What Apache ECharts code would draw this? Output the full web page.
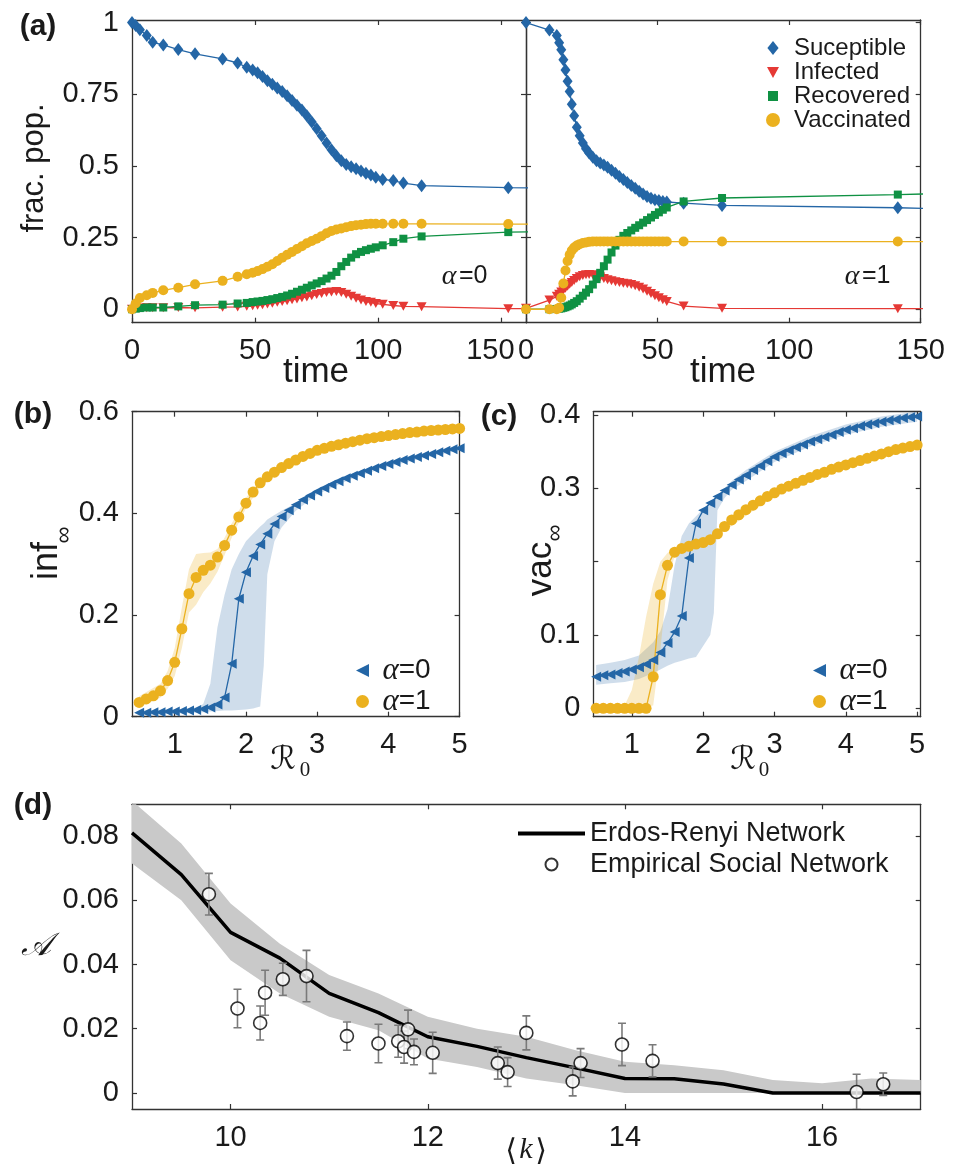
<!DOCTYPE html>
<html>
<head>
<meta charset="utf-8">
<script src="https://cdn.jsdelivr.net/npm/echarts@6/dist/echarts.min.js"></script>
<style>
  html, body { margin: 0; padding: 0; background: #fff; }
  #chart { width: 959px; height: 1168px; }
</style>
</head>
<body>
<div id="chart"></div>
<script>
// ---- panel (a): time courses, alpha = 0 (left) and alpha = 1 (right)
var timeA0 = [0, 1.5, 3.2, 6, 8.4, 12.7, 18.8, 25.6, 36.8, 42.9, 46.6,
  49, 51, 53, 55, 57, 59, 61, 63, 65, 67, 69, 71, 73, 75, 77, 79, 81, 83, 85, 87, 89, 91, 93, 95, 97, 99,
  101.8, 106.1, 110.2, 117.6, 152.8, 175];
var susA0 = [1, 0.99, 0.975, 0.955, 0.931, 0.922, 0.906, 0.891, 0.873, 0.859, 0.844,
  0.835, 0.825, 0.812, 0.797, 0.785, 0.772, 0.76, 0.745, 0.728, 0.712, 0.695, 0.675, 0.653, 0.63, 0.605,
  0.58, 0.556, 0.535, 0.518, 0.505, 0.497, 0.49, 0.482, 0.474, 0.468, 0.46,
  0.453, 0.449, 0.44, 0.431, 0.424, 0.423];
var infA0 = [0, 0.003, 0.004, 0.005, 0.005, 0.005, 0.006, 0.005, 0.007, 0.008, 0.01,
  0.012, 0.014, 0.016, 0.018, 0.021, 0.024, 0.027, 0.03, 0.033, 0.036, 0.04, 0.043, 0.047, 0.051, 0.055,
  0.058, 0.06, 0.062, 0.058, 0.052, 0.045, 0.038, 0.032, 0.027, 0.024, 0.02,
  0.017, 0.013, 0.01, 0.009, 0.002, 0.002];
var recA0 = [0, 0.002, 0.004, 0.006, 0.006, 0.006, 0.01, 0.014, 0.016, 0.02, 0.022,
  0.025, 0.027, 0.029, 0.032, 0.035, 0.039, 0.043, 0.048, 0.054, 0.061, 0.068, 0.075, 0.083, 0.09, 0.098,
  0.107, 0.117, 0.13, 0.15, 0.165, 0.18, 0.192, 0.2, 0.206, 0.211, 0.216,
  0.223, 0.234, 0.246, 0.254, 0.269, 0.272];
var vacA0 = [0, 0.02, 0.039, 0.049, 0.057, 0.066, 0.075, 0.087, 0.099, 0.113, 0.122,
  0.127, 0.133, 0.14, 0.148, 0.157, 0.168, 0.18, 0.19, 0.2, 0.21, 0.22, 0.23, 0.238, 0.246, 0.255,
  0.265, 0.273, 0.278, 0.282, 0.286, 0.29, 0.293, 0.295, 0.297, 0.298, 0.298,
  0.298, 0.298, 0.298, 0.298, 0.297, 0.297];

var timeA1 = [0, 8.9, 11.7, 12.6, 13.4, 14.2, 15, 15.8, 16.6, 17.4,
  18.3, 19.3, 20.4, 21.6, 22.8, 24, 25.4, 26.8, 28.2, 29.6,
  31, 32.5, 34, 35.5, 37, 38.5, 40, 41.5, 43, 44.5,
  46, 47.5, 49, 50.5, 52, 53.5, 59.9, 74.5, 141.3, 165];
var susA1 = [1, 0.974, 0.955, 0.93, 0.905, 0.87, 0.835, 0.795, 0.76, 0.715,
  0.675, 0.635, 0.605, 0.58, 0.56, 0.545, 0.53, 0.518, 0.51, 0.503,
  0.495, 0.485, 0.474, 0.463, 0.453, 0.442, 0.432, 0.422, 0.412, 0.402,
  0.393, 0.387, 0.382, 0.379, 0.376, 0.374, 0.37, 0.362, 0.354, 0.349];
var infA1 = [0.003, 0.032, 0.045, 0.052, 0.06, 0.066, 0.073, 0.08, 0.087, 0.093,
  0.1, 0.107, 0.113, 0.118, 0.12, 0.121, 0.12, 0.117, 0.112, 0.107,
  0.103, 0.099, 0.096, 0.093, 0.091, 0.089, 0.086, 0.082, 0.077, 0.071,
  0.063, 0.055, 0.047, 0.04, 0.033, 0.027, 0.011, 0.003, 0.002, 0.002];
var recA1 = [0, 0, 0.001, 0.002, 0.003, 0.005, 0.007, 0.01, 0.013, 0.017,
  0.022, 0.028, 0.037, 0.047, 0.058, 0.07, 0.086, 0.105, 0.127, 0.15,
  0.173, 0.198, 0.222, 0.242, 0.256, 0.266, 0.275, 0.284, 0.293, 0.302,
  0.311, 0.32, 0.329, 0.338, 0.347, 0.355, 0.376, 0.388, 0.4, 0.405];
var vacA1 = [0, 0, 0, 0.005, 0.04, 0.09, 0.135, 0.168, 0.19, 0.205,
  0.215, 0.222, 0.227, 0.231, 0.233, 0.235, 0.236, 0.236, 0.236, 0.236,
  0.236, 0.236, 0.236, 0.236, 0.236, 0.236, 0.236, 0.236, 0.236, 0.236,
  0.236, 0.236, 0.236, 0.236, 0.236, 0.236, 0.236, 0.236, 0.236, 0.236];

// ---- panels (b) and (c): final infected / vaccinated vs R0
var r0 = [0.5, 0.6, 0.7, 0.8, 0.9, 1.0, 1.1, 1.2, 1.3, 1.4, 1.5, 1.6, 1.7, 1.8, 1.9, 2.0,
  2.1, 2.2, 2.3, 2.4, 2.5, 2.6, 2.7, 2.8, 2.9, 3.0, 3.1, 3.2, 3.3, 3.4, 3.5, 3.6,
  3.7, 3.8, 3.9, 4.0, 4.1, 4.2, 4.3, 4.4, 4.5, 4.6, 4.7, 4.8, 4.9, 5.0];
var infEnd0 = [0.008, 0.008, 0.009, 0.009, 0.01, 0.01, 0.011, 0.012, 0.013, 0.015,
  0.018, 0.024, 0.038, 0.104, 0.232, 0.284, 0.316, 0.339, 0.36, 0.379,
  0.394, 0.406, 0.417, 0.427, 0.435, 0.443, 0.45, 0.457, 0.463, 0.469,
  0.474, 0.479, 0.484, 0.489, 0.493, 0.497, 0.501, 0.505, 0.508, 0.511,
  0.514, 0.517, 0.52, 0.523, 0.526, 0.528];
var infEnd1 = [0.028, 0.035, 0.041, 0.051, 0.071, 0.107, 0.173, 0.242, 0.274, 0.288,
  0.298, 0.314, 0.337, 0.367, 0.393, 0.42, 0.442, 0.46, 0.472, 0.481,
  0.49, 0.498, 0.505, 0.512, 0.518, 0.524, 0.528, 0.532, 0.535, 0.538,
  0.541, 0.544, 0.547, 0.549, 0.551, 0.553, 0.555, 0.557, 0.559, 0.56,
  0.562, 0.563, 0.564, 0.565, 0.566, 0.567];
var vacEnd0 = [0.043, 0.045, 0.046, 0.048, 0.05, 0.053, 0.056, 0.06, 0.066, 0.076,
  0.089, 0.104, 0.126, 0.205, 0.252, 0.27, 0.28, 0.289, 0.297, 0.305,
  0.312, 0.318, 0.325, 0.331, 0.337, 0.343, 0.348, 0.352, 0.356, 0.36,
  0.364, 0.367, 0.37, 0.373, 0.377, 0.38, 0.382, 0.385, 0.387, 0.389,
  0.391, 0.393, 0.394, 0.396, 0.397, 0.398];
var vacEnd1 = [0, 0, 0, 0, 0, 0, 0, 0, 0.043, 0.155,
  0.195, 0.213, 0.218, 0.221, 0.224, 0.226, 0.23, 0.238, 0.248, 0.257,
  0.264, 0.271, 0.277, 0.283, 0.289, 0.294, 0.299, 0.303, 0.307, 0.311,
  0.315, 0.319, 0.322, 0.326, 0.329, 0.332, 0.335, 0.338, 0.341, 0.344,
  0.347, 0.35, 0.353, 0.355, 0.357, 0.359];

// shaded spread bands
var bandInf0X = [0.5, 1.0, 1.3, 1.4, 1.5, 1.6, 1.7, 1.8, 1.9, 2.0, 2.1, 2.2, 2.25, 2.3, 2.4, 2.5, 2.7, 3.0, 3.5, 4.0, 4.5, 5.0];
var bandInf0Hi = [0.012, 0.014, 0.018, 0.025, 0.065, 0.176, 0.24, 0.29, 0.32, 0.345, 0.36, 0.374, 0.38, 0.388, 0.397, 0.405, 0.42, 0.447, 0.479, 0.502, 0.519, 0.532];
var bandInf0Lo = [0.004, 0.006, 0.008, 0.009, 0.01, 0.011, 0.012, 0.012, 0.013, 0.014, 0.016, 0.02, 0.1, 0.28, 0.345, 0.372, 0.405, 0.437, 0.469, 0.492, 0.509, 0.524];
var bandInf1X = [0.5, 0.8, 0.9, 1.0, 1.1, 1.2, 1.3, 1.4, 1.5, 1.6, 1.7, 1.8, 1.9, 2.0, 2.2, 2.5, 3.0, 3.5, 4.0, 4.5, 5.0];
var bandInf1Hi = [0.04, 0.065, 0.09, 0.135, 0.215, 0.29, 0.32, 0.322, 0.323, 0.33, 0.352, 0.38, 0.405, 0.43, 0.468, 0.498, 0.528, 0.546, 0.557, 0.566, 0.571];
var bandInf1Lo = [0.018, 0.038, 0.055, 0.08, 0.135, 0.205, 0.22, 0.245, 0.262, 0.285, 0.318, 0.352, 0.382, 0.41, 0.452, 0.484, 0.516, 0.536, 0.549, 0.558, 0.563];
var bandVac0X = [0.5, 0.7, 0.9, 1.1, 1.3, 1.4, 1.5, 1.6, 1.7, 1.8, 1.9, 2.0, 2.1, 2.15, 2.2, 2.3, 2.4, 2.6, 3.0, 3.5, 4.0, 4.5, 5.0];
var bandVac0Hi = [0.059, 0.062, 0.066, 0.072, 0.09, 0.105, 0.135, 0.195, 0.235, 0.252, 0.262, 0.272, 0.281, 0.285, 0.29, 0.3, 0.31, 0.325, 0.35, 0.371, 0.387, 0.398, 0.405];
var bandVac0Lo = [0.032, 0.034, 0.036, 0.04, 0.048, 0.053, 0.058, 0.062, 0.065, 0.068, 0.07, 0.085, 0.1, 0.13, 0.27, 0.287, 0.298, 0.31, 0.336, 0.357, 0.373, 0.384, 0.391];
var bandVac1X = [0.5, 0.9, 1.0, 1.1, 1.2, 1.3, 1.4, 1.5, 1.6, 1.8, 2.2, 3.0, 4.0, 5.0];
var bandVac1Hi = [0.003, 0.004, 0.025, 0.07, 0.125, 0.17, 0.2, 0.212, 0.218, 0.224, 0.241, 0.298, 0.336, 0.362];
var bandVac1Lo = [0, 0, 0, 0, 0, 0.004, 0.08, 0.175, 0.207, 0.218, 0.235, 0.29, 0.328, 0.356];

// ---- panel (d): asymmetry vs mean degree
var kER = [9, 9.5, 10, 10.5, 11, 11.5, 12, 12.5, 13, 13.5, 14, 14.5, 15, 15.5, 16, 16.5, 17];
var asymER = [0.081, 0.068, 0.05, 0.042, 0.031, 0.025, 0.0175, 0.0145, 0.011, 0.0078, 0.0045, 0.0044, 0.0028, 0, 0, 0, 0];
var asymERHi = [0.091, 0.0777, 0.059, 0.0465, 0.0367, 0.031, 0.0237, 0.02, 0.0175, 0.0133, 0.0097, 0.0086, 0.0071, 0.004, 0.003, 0.0045, 0.004];
var asymERLo = [0.0715, 0.06, 0.0413, 0.031, 0.0237, 0.0195, 0.0107, 0.0081, 0.0045, 0.0024, 0, 0, 0, 0, 0, 0, 0];
var kEmp = [9.78, 10.07, 10.3, 10.35, 10.53, 10.77, 11.18, 11.5, 11.7, 11.76, 11.8,
  11.86, 12.05, 12.71, 12.81, 13.0, 13.47, 13.55, 13.97, 14.28, 16.35, 16.62];
var asymEmp = [0.0619, 0.0263, 0.0218, 0.0312, 0.0354, 0.0364, 0.0177, 0.0154, 0.0161, 0.0143, 0.0198,
  0.0128, 0.0125, 0.0093, 0.0065, 0.0187, 0.0036, 0.0093, 0.0151, 0.01, 0.0003, 0.0027];
var errEmp = [0.0065, 0.006, 0.0053, 0.007, 0.005, 0.008, 0.0044, 0.006, 0.005, 0.005, 0.006,
  0.004, 0.0064, 0.005, 0.0045, 0.0053, 0.0045, 0.0045, 0.0066, 0.005, 0.0055, 0.0035];

var FONT = '"Liberation Sans", Arial, Helvetica, sans-serif';
var SERIF = '"Liberation Serif", "DejaVu Serif", serif';
var AXC = '#333';
var TXT = '#1a1a1a';
var BLUE = '#2466a6', RED = '#e53935', GREEN = '#0f9143', ORANGE = '#ebb11f';

function pairs(xs, ys) {
  return xs.map(function (x, i) { return [x, ys[i]]; });
}

function xAxis(grid, pos, min, max, ticks, labels, extra) {
  var ax = {
    type: 'value', gridIndex: grid, position: pos, min: min, max: max,
    axisLine: { show: true, onZero: false, lineStyle: { color: AXC, width: 1.3 } },
    axisTick: { show: true, inside: true, length: 5, customValues: ticks, lineStyle: { color: AXC, width: 1.2 } },
    axisLabel: { show: !!labels, customValues: labels || ticks, margin: 14, fontSize: 29, color: TXT, fontFamily: FONT },
    splitLine: { show: false }
  };
  if (extra) ax.axisLabel = Object.assign(ax.axisLabel, extra);
  return ax;
}

function yAxis(grid, pos, min, max, ticks, labels) {
  return {
    type: 'value', gridIndex: grid, position: pos, min: min, max: max,
    axisLine: { show: true, onZero: false, lineStyle: { color: AXC, width: 1.3 } },
    axisTick: { show: true, inside: true, length: 5, customValues: ticks, lineStyle: { color: AXC, width: 1.2 } },
    axisLabel: { show: !!labels, customValues: labels || ticks, margin: 13, fontSize: 29, color: TXT, fontFamily: FONT },
    splitLine: { show: false }
  };
}

function lineSeries(name, grid, xs, ys, color, symbol, size, rotate) {
  return {
    type: 'line', name: name, xAxisIndex: grid, yAxisIndex: grid,
    data: pairs(xs, ys), symbol: symbol, symbolSize: size, symbolRotate: rotate || 0,
    showSymbol: true, clip: true, z: 3,
    lineStyle: { color: color, width: 1.3 },
    itemStyle: { color: color },
    emphasis: { disabled: true }
  };
}

function bandSeries(grid, xs, lo, hi, fill) {
  return {
    type: 'custom', xAxisIndex: grid, yAxisIndex: grid, clip: true, silent: true, z: 1,
    data: [[xs[0], lo[0]]],
    encode: { x: 0, y: 1 },
    renderItem: function (params, api) {
      var pts = [];
      for (var i = 0; i < xs.length; i++) pts.push(api.coord([xs[i], hi[i]]));
      for (var j = xs.length - 1; j >= 0; j--) pts.push(api.coord([xs[j], lo[j]]));
      return { type: 'polygon', shape: { points: pts }, style: { fill: fill } };
    }
  };
}

var ticksA = [0, 0.25, 0.5, 0.75, 1];
var ticksT = [0, 50, 100, 150];
var ticksR = [1, 2, 3, 4, 5];

var alphaLegend = {
  formatter: function (n) { return '{a|α}{n|' + n.slice(1) + '}'; },
  textStyle: {
    lineHeight: 30, color: TXT,
    rich: {
      a: { fontFamily: SERIF, fontStyle: 'italic', fontSize: 31, color: TXT, lineHeight: 30 },
      n: { fontFamily: FONT, fontSize: 28, color: TXT, lineHeight: 30 }
    }
  },
  data: [{ name: 'α=0', icon: 'path://M10,0L10,10L0,5Z' }, { name: 'α=1', icon: 'circle' }]
};

var option = {
  animation: false,
  backgroundColor: '#fff',
  grid: [
    { left: 132, top: 20, width: 394, height: 302.7 },
    { left: 526, top: 20, width: 394.7, height: 302.7 },
    { left: 132, top: 411.7, width: 327.6, height: 305 },
    { left: 593.3, top: 411.7, width: 327.4, height: 305 },
    { left: 132, top: 804.3, width: 788.7, height: 304.7 }
  ].map(function (g) { g.containLabel = false; g.outerBoundsMode = 'none'; return g; }),
  xAxis: [
    xAxis(0, 'bottom', 0, 160, ticksT, ticksT, {
      formatter: function (v) { return v === 150 ? '{s|150}' : String(v); },
      rich: { s: { fontSize: 29, fontFamily: FONT, color: TXT, padding: [0, 22, 0, 0] } }
    }),
    xAxis(1, 'bottom', 0, 150, ticksT, ticksT),
    xAxis(2, 'bottom', 0.4, 5, ticksR, ticksR),
    xAxis(3, 'bottom', 0.46, 5.05, ticksR, ticksR),
    xAxis(4, 'bottom', 9, 17, [10, 12, 14, 16], [10, 12, 14, 16]),
    xAxis(0, 'top', 0, 160, ticksT),
    xAxis(1, 'top', 0, 150, ticksT),
    xAxis(2, 'top', 0.4, 5, ticksR),
    xAxis(3, 'top', 0.46, 5.05, ticksR),
    xAxis(4, 'top', 9, 17, [10, 12, 14, 16])
  ],
  yAxis: [
    yAxis(0, 'left', -0.047, 1.009, ticksA, ticksA),
    yAxis(1, 'left', -0.047, 1.009, ticksA),
    yAxis(2, 'left', 0, 0.6, [0, 0.2, 0.4, 0.6], [0, 0.2, 0.4, 0.6]),
    yAxis(3, 'left', -0.0115, 0.4046, [0, 0.1, 0.2, 0.3, 0.4], [0, 0.1, 0.3, 0.4]),
    yAxis(4, 'left', -0.005, 0.0899, [0, 0.02, 0.04, 0.06, 0.08], [0, 0.02, 0.04, 0.06, 0.08]),
    yAxis(0, 'right', -0.047, 1.009, ticksA),
    yAxis(1, 'right', -0.047, 1.009, ticksA),
    yAxis(2, 'right', 0, 0.6, [0, 0.2, 0.4, 0.6]),
    yAxis(3, 'right', -0.0115, 0.4046, [0, 0.1, 0.2, 0.3, 0.4]),
    yAxis(4, 'right', -0.005, 0.0899, [0, 0.02, 0.04, 0.06, 0.08])
  ],
  legend: [
    {
      left: 761, top: 31, orient: 'vertical', itemGap: 0, itemWidth: 14, itemHeight: 14,
      selectedMode: false,
      textStyle: { fontSize: 24, lineHeight: 23, fontFamily: FONT, color: TXT, padding: [0, 0, 0, 9] },
      data: [
        { name: 'Suceptible', icon: 'path://M6,0L12,7.5L6,15L0,7.5Z' },
        { name: 'Infected', icon: 'path://M0,0M1,2L13,2L7,13ZM14,14' },
        { name: 'Recovered', icon: 'path://M0,0M2,2h10v10h-10zM14,14' },
        { name: 'Vaccinated', icon: 'circle' }
      ]
    },
    Object.assign({ left: 351, top: 650, orient: 'vertical', itemGap: 0, itemWidth: 30, itemHeight: 13, selectedMode: false }, alphaLegend),
    Object.assign({ left: 808, top: 650, orient: 'vertical', itemGap: 0, itemWidth: 30, itemHeight: 13, selectedMode: false }, alphaLegend),
    {
      left: 513, top: 813, orient: 'vertical', itemGap: 0, itemWidth: 67, itemHeight: 12,
      selectedMode: false,
      textStyle: { fontSize: 27, lineHeight: 31, fontFamily: FONT, color: TXT },
      data: [
        { name: 'Erdos-Renyi Network', icon: 'path://M0,0h67v4h-67z' },
        { name: 'Empirical Social Network', icon: 'circle' }
      ]
    }
  ],
  graphic: [],
  series: []
};

// panel (a)
[[0, timeA0, susA0, infA0, recA0, vacA0], [1, timeA1, susA1, infA1, recA1, vacA1]].forEach(function (p) {
  var g = p[0], t = p[1];
  option.series.push(lineSeries('Suceptible', g, t, p[2], BLUE, 'diamond', [10, 13]));
  option.series.push(lineSeries('Infected', g, t, p[3], RED, 'triangle', [10, 9], 180));
  option.series.push(lineSeries('Recovered', g, t, p[4], GREEN, 'rect', 8));
  option.series.push(lineSeries('Vaccinated', g, t, p[5], ORANGE, 'circle', 10));
});

// panel (b)
option.series.push(bandSeries(2, bandInf0X, bandInf0Lo, bandInf0Hi, 'rgba(36,102,166,0.22)'));
option.series.push(bandSeries(2, bandInf1X, bandInf1Lo, bandInf1Hi, 'rgba(235,177,31,0.25)'));
option.series.push(lineSeries('α=0', 2, r0, infEnd0, BLUE, 'triangle', 10, 90));
option.series.push(lineSeries('α=1', 2, r0, infEnd1, ORANGE, 'circle', 11));

// panel (c)
option.series.push(bandSeries(3, bandVac0X, bandVac0Lo, bandVac0Hi, 'rgba(36,102,166,0.22)'));
option.series.push(bandSeries(3, bandVac1X, bandVac1Lo, bandVac1Hi, 'rgba(235,177,31,0.25)'));
option.series.push(lineSeries('α=0', 3, r0, vacEnd0, BLUE, 'triangle', 10, 90));
option.series.push(lineSeries('α=1', 3, r0, vacEnd1, ORANGE, 'circle', 11));

// panel (d)
option.series.push(bandSeries(4, kER, asymERLo, asymERHi, '#c9c9c9'));
option.series.push({
  type: 'line', name: 'Erdos-Renyi Network', xAxisIndex: 4, yAxisIndex: 4,
  data: pairs(kER, asymER), symbol: 'none', clip: true, z: 3,
  lineStyle: { color: '#000', width: 3.5 }, itemStyle: { color: '#000' },
  emphasis: { disabled: true }
});
option.series.push({
  type: 'custom', xAxisIndex: 4, yAxisIndex: 4, clip: true, silent: true, z: 4,
  data: kEmp.map(function (k, i) { return [k, asymEmp[i], errEmp[i]]; }),
  encode: { x: 0, y: 1 },
  renderItem: function (params, api) {
    var k = api.value(0), v = api.value(1), e = api.value(2);
    var top = api.coord([k, v + e]), bot = api.coord([k, v - e]);
    var st = { stroke: '#7a7a7a', lineWidth: 1.6 };
    return {
      type: 'group', children: [
        { type: 'line', shape: { x1: top[0], y1: top[1], x2: bot[0], y2: bot[1] }, style: st },
        { type: 'line', shape: { x1: top[0] - 4, y1: top[1], x2: top[0] + 4, y2: top[1] }, style: st },
        { type: 'line', shape: { x1: bot[0] - 4, y1: bot[1], x2: bot[0] + 4, y2: bot[1] }, style: st }
      ]
    };
  }
});
option.series.push({
  type: 'scatter', name: 'Empirical Social Network', xAxisIndex: 4, yAxisIndex: 4,
  data: pairs(kEmp, asymEmp), symbol: 'circle', symbolSize: 13, z: 5,
  itemStyle: { color: '#fff', borderColor: '#000', borderWidth: 1.6 },
  emphasis: { disabled: true }
});

// text: panel letters, axis names, annotations
function txt(text, x, y, size, opts) {
  var el = {
    type: 'text', x: x, y: y, silent: true,
    style: { text: text, fontSize: size, fontFamily: FONT, fill: TXT, align: 'center', verticalAlign: 'middle' }
  };
  if (opts) {
    if (opts.rotation) el.rotation = opts.rotation;
    Object.keys(opts).forEach(function (k) { if (k !== 'rotation') el.style[k] = opts[k]; });
  }
  option.graphic.push(el);
}
var bold = { fontWeight: 'bold' };
var up = Math.PI / 2;
txt('(a)', 38, 27, 30, bold);
txt('(b)', 33, 415, 30, bold);
txt('(c)', 499, 417, 30, bold);
txt('(d)', 33, 806, 30, bold);
txt('frac. pop.', 34, 168, 31, { rotation: up });
txt('time', 316, 372, 35);
txt('time', 723, 372, 35);
txt('α', 449, 277, 28, { fontFamily: SERIF, fontStyle: 'italic' });
txt('=0', 459, 276, 25, { align: 'left' });
txt('α', 852, 277, 28, { fontFamily: SERIF, fontStyle: 'italic' });
txt('=1', 862, 276, 25, { align: 'left' });
txt('inf', 47, 561, 36, { rotation: up });
txt('∞', 64, 535, 24, { rotation: up });
txt('vac', 541, 569, 35, { rotation: up });
txt('∞', 555, 533, 24, { rotation: up });
txt('ℛ', 283, 761, 32, { fontFamily: '"DejaVu Serif", "DejaVu Sans", serif', fontStyle: 'italic' });
txt('0', 305, 770, 21, { fontFamily: SERIF });
txt('ℛ', 743, 761, 32, { fontFamily: '"DejaVu Serif", "DejaVu Sans", serif', fontStyle: 'italic' });
txt('0', 764, 770, 21, { fontFamily: SERIF });
txt('𝒜', 36, 947, 32, { fontFamily: '"DejaVu Serif", "DejaVu Sans", serif', fontStyle: 'italic' });
txt('⟨', 511, 1152, 30, { fontFamily: '"DejaVu Serif", serif' });
txt('k', 526, 1150, 30, { fontFamily: SERIF, fontStyle: 'italic' });
txt('⟩', 541, 1152, 30, { fontFamily: '"DejaVu Serif", serif' });

var chart = echarts.init(document.getElementById('chart'));
chart.setOption(option);
</script>
</body>
</html>
